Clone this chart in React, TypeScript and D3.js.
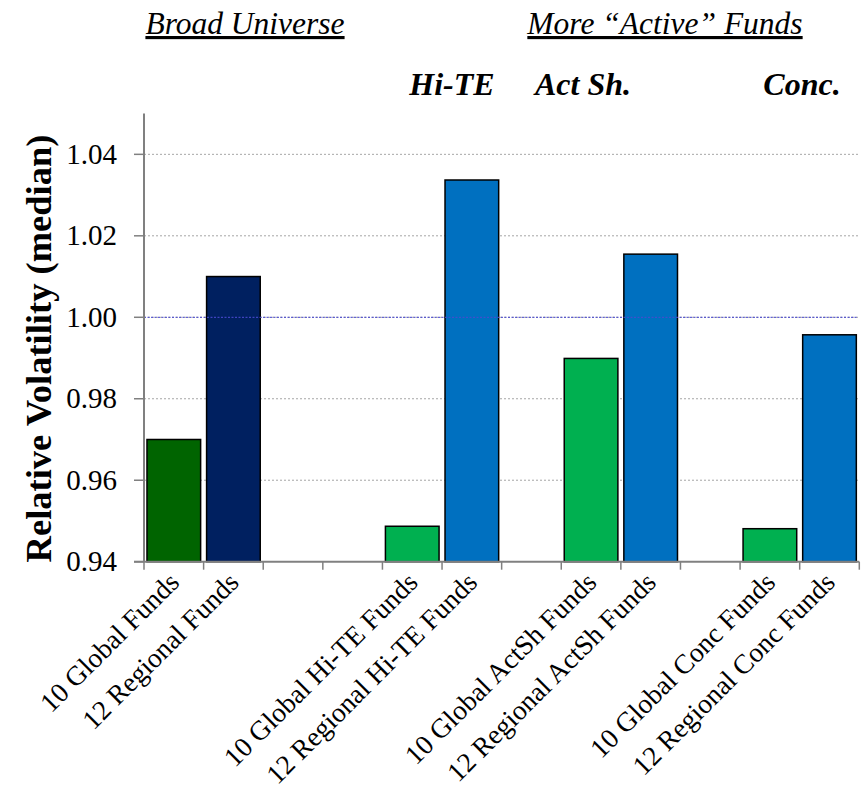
import React from "react";
import * as d3 from "d3";

const categories: string[] = [
  "10 Global Funds",
  "12 Regional Funds",
  "",
  "",
  "10 Global Hi-TE Funds",
  "12 Regional Hi-TE Funds",
  "",
  "10 Global ActSh Funds",
  "12 Regional ActSh Funds",
  "",
  "10 Global Conc Funds",
  "12 Regional Conc Funds",
];
const values: (number | null)[] = [
  0.970, 1.010, null, null, 0.9487, 1.0337, null, 0.9899, 1.0155, null, 0.9481, 0.9957,
];
const barColors: string[] = [
  "#006400", "#002060", "", "", "#00B050", "#0070C0", "", "#00B050", "#0070C0", "", "#00B050", "#0070C0",
];
const yTicks: number[] = [0.94, 0.96, 0.98, 1.0, 1.02, 1.04];
const groupTitles: string[] = ["Broad Universe", "More \u201CActive\u201D Funds"];
const subTitles: string[] = ["Hi-TE", "Act Sh.", "Conc."];
const referenceValue = 1.0;

// layout (not data)
const W = 865;
const H = 791;
const left = 144;
const right = 859.3;
const top = 113.6;
const bottom = 561.7;
const groupTitleX = [245, 665];
const subTitleX = [452, 583, 802];
const FONT = "'Liberation Serif', 'Times New Roman', serif";

export default function App() {
  const x = d3
    .scaleBand<number>()
    .domain(categories.map((_, i) => i))
    .range([left, right])
    .paddingInner(0.1)
    .paddingOuter(0.05);
  const y = d3.scaleLinear().domain([0.94, 1.05]).range([bottom, top]);
  const step = x.step();
  const boundaries = d3.range(categories.length + 1).map((i) => left + i * step);

  return (
    <svg
      width={W}
      height={H}
      style={{ position: "absolute", left: 0, top: 0, background: "#fff" }}
      fontFamily={FONT}
    >
      {/* gridlines */}
      {yTicks
        .filter((t) => t !== 0.94)
        .map((t) => (
          <line
            key={"g" + t}
            x1={left}
            x2={right}
            y1={y(t)}
            y2={y(t)}
            stroke="#a6a6a6"
            strokeWidth={1}
            strokeDasharray="2,2"
          />
        ))}
      {/* bars */}
      {values.map((v, i) =>
        v == null ? null : (
          <rect
            key={"b" + i}
            x={x(i)!}
            y={y(v)}
            width={x.bandwidth()}
            height={y(0.94) - y(v)}
            fill={barColors[i]}
            stroke="#000"
            strokeWidth={1.5}
          />
        )
      )}
      {/* reference line */}
      <line
        x1={left}
        x2={right - 2}
        y1={y(referenceValue)}
        y2={y(referenceValue)}
        stroke="#4a4ad0"
        strokeWidth={1.3}
        strokeDasharray="2,1.5"
        opacity={0.85}
      />
      {/* axes */}
      <line x1={left} x2={left} y1={top} y2={bottom} stroke="#808080" strokeWidth={2} />
      <line x1={left - 10} x2={right} y1={bottom} y2={bottom} stroke="#808080" strokeWidth={2} />
      {yTicks.map((t) => (
        <g key={"yt" + t}>
          <line x1={left - 10} x2={left} y1={y(t)} y2={y(t)} stroke="#808080" strokeWidth={1.5} />
          <text
            x={117}
            y={y(t) + 9.5}
            textAnchor="end"
            fontSize={29}
            fill="#000"
          >
            {d3.format(".2f")(t)}
          </text>
        </g>
      ))}
      {boundaries.map((bx, i) => (
        <line key={"xt" + i} x1={bx} x2={bx} y1={bottom} y2={bottom + 8} stroke="#808080" strokeWidth={1.5} />
      ))}
      {/* x labels */}
      {categories.map((c, i) =>
        c ? (
          <text
            key={"xl" + i}
            transform={`translate(${x(i)! + x.bandwidth() / 2 + 7},${584}) rotate(-45)`}
            textAnchor="end"
            fontSize={27.5}
            fill="#000"
          >
            {c}
          </text>
        ) : null
      )}
      {/* y-axis title */}
      <text
        transform={`translate(${51},${348.5}) rotate(-90)`}
        textAnchor="middle"
        fontSize={36.5}
        fontWeight="bold"
        fill="#000"
      >
        Relative Volatility (median)
      </text>
      {/* group titles */}
      {groupTitles.map((g, i) => (
        <text
          key={"gt" + i}
          x={groupTitleX[i]}
          y={34}
          textAnchor="middle"
          fontSize={31.5}
          fontStyle="italic"
          style={{ textDecoration: "underline" }}
          fill="#000"
        >
          {g}
        </text>
      ))}
      {subTitles.map((s, i) => (
        <text
          key={"st" + i}
          x={subTitleX[i]}
          y={95}
          textAnchor="middle"
          fontSize={32}
          fontStyle="italic"
          fontWeight="bold"
          fill="#000"
        >
          {s}
        </text>
      ))}
    </svg>
  );
}
